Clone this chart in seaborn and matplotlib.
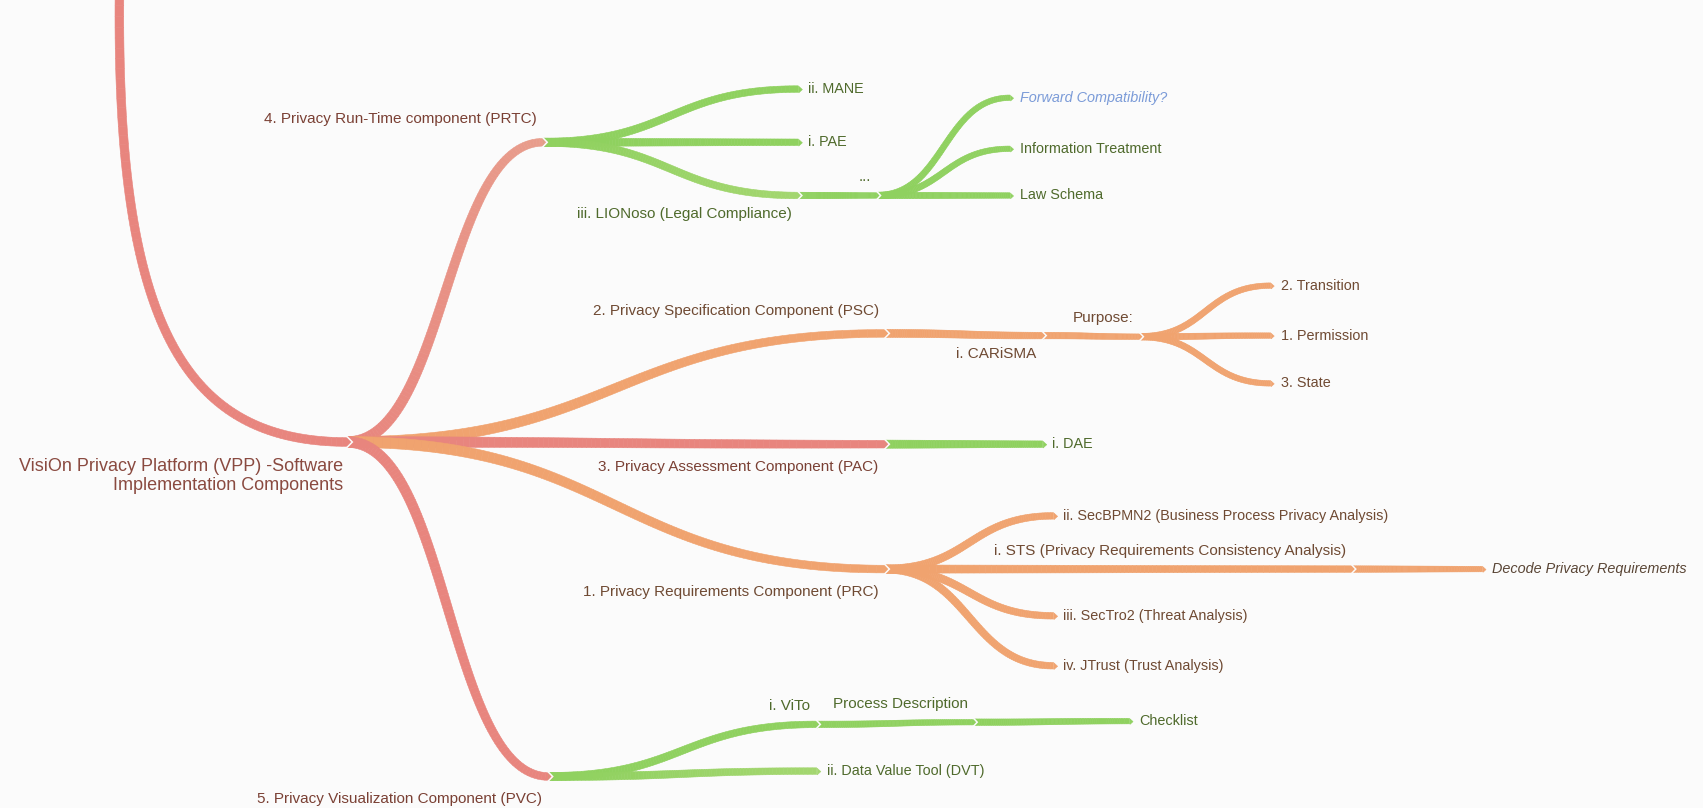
#!/usr/bin/env python3

import numpy as np
import seaborn as sns
import matplotlib.pyplot as plt
from matplotlib.collections import PolyCollection
from matplotlib.colors import to_rgb

sns.set_theme(style="white")
plt.rcParams['font.family'] = ['Liberation Sans', 'DejaVu Sans']

BG = "#fbfbfb"
RED, PINK, ORANGE, GREEN, LGREEN = "#e8857e", "#e89d8c", "#f0a36f", "#8fd15f", "#a3d66f"
TXT = {"red": "#7a4034", "orange": "#6f4a33", "green": "#4f6a2c"}

# mind map nodes (layout units = pixels of a 1568 x 744 canvas)
labels = ["VisiOn Privacy Platform (VPP) -Software\nImplementation Components",
          "4. Privacy Run-Time component (PRTC)",
          "2. Privacy Specification Component (PSC)",
          "3. Privacy Assessment Component (PAC)",
          "1. Privacy Requirements Component (PRC)",
          "5. Privacy Visualization Component (PVC)",
          "ii. MANE", "i. PAE", "iii. LIONoso (Legal Compliance)", "...",
          "Forward Compatibility?", "Information Treatment", "Law Schema",
          "i. CARiSMA", "Purpose:", "2. Transition", "1. Permission", "3. State",
          "i. DAE",
          "ii. SecBPMN2 (Business Process Privacy Analysis)",
          "i. STS (Privacy Requirements Consistency Analysis)",
          "Decode Privacy Requirements",
          "iii. SecTro2 (Threat Analysis)", "iv. JTrust (Trust Analysis)",
          "i. ViTo", "Process Description", "Checklist", "ii. Data Value Tool (DVT)"]
parents = [-1, 0, 0, 0, 0, 0, 1, 1, 1, 8, 9, 9, 9, 2, 13, 14, 14, 14, 3,
           4, 4, 20, 4, 4, 5, 24, 25, 5]
node_x = [320, 500, 815, 815, 815, 505, 735, 735, 735, 808, 930, 930, 930,
          960, 1050, 1170, 1170, 1170, 960, 970, 1245, 1365, 970, 970,
          752, 897, 1040, 752]
node_y = [407, 131, 307, 409, 524, 715, 82, 131, 180, 180, 90, 137, 180,
          309, 310, 263, 309, 353, 409, 475, 524, 524, 567, 613,
          667, 665, 664, 710]
side = ["root", "above", "above", "below", "below", "below",
        "leaf", "leaf", "below", "above", "leaf", "leaf", "leaf",
        "below", "above", "leaf", "leaf", "leaf", "leaf",
        "leaf", "above", "leaf", "leaf", "leaf",
        "above", "above", "leaf", "leaf"]
branch = ["red", "red", "orange", "red", "orange", "red",
          "green", "green", "green", "green", "green", "green", "green",
          "orange", "orange", "orange", "orange", "orange", "green",
          "orange", "orange", "orange", "orange", "orange",
          "green", "green", "green", "green"]
line_colors = {1: (RED, PINK), 8: (GREEN, LGREEN), 27: (GREEN, LGREEN)}
italic = {10: "#7b9bd8", 21: "#5a4636"}


def depth(i):
    d = 0
    while parents[i] >= 0:
        i = parents[i]
        d += 1
    return d


def tapered(ax, p0, p1, p2, p3, w0, w1, c0, c1, z, n=90):
    t = np.linspace(0, 1, n)[:, None]
    pts = ((1 - t) ** 3) * p0 + 3 * ((1 - t) ** 2) * t * p1 + 3 * (1 - t) * t ** 2 * p2 + t ** 3 * p3
    tan = np.gradient(pts, axis=0)
    tan /= np.linalg.norm(tan, axis=1)[:, None]
    nor = np.column_stack([-tan[:, 1], tan[:, 0]])
    w = np.linspace(w0, w1, n)[:, None] / 2
    left, right = pts + nor * w, pts - nor * w
    quads = [[left[k], left[k + 1], right[k + 1], right[k]] for k in range(n - 1)]
    a, b = np.array(to_rgb(c0)), np.array(to_rgb(c1))
    cols = [a + (b - a) * (k + 0.5) / (n - 1) for k in range(n - 1)]
    ax.add_collection(PolyCollection(quads, facecolors=cols, edgecolors=cols,
                                     linewidths=0.4, zorder=z))
    tip = [left[-1], pts[-1] + tan[-1] * w1 * 0.55, right[-1]]
    ax.add_collection(PolyCollection([tip], facecolors=[b], edgecolors=[b],
                                     linewidths=0.4, zorder=z))


fig = plt.figure(figsize=(17.03, 8.08), dpi=100, facecolor=BG)
ax = fig.add_axes([0, 0, 1, 1])
ax.set_facecolor(BG)
ax.set_xlim(0, 1568)
ax.set_ylim(744, 0)
ax.axis('off')

widths = {1: (10, 7), 2: (7.5, 6), 3: (6, 5), 4: (6, 5)}

# root stem coming from the top
tapered(ax, np.array([110, -5.]), np.array([107, 300.]), np.array([170, 407.]),
        np.array([320, 407.]), 8, 8, RED, RED, z=10)

for i in range(1, len(labels)):
    p = parents[i]
    x0, y0, x1, y1 = node_x[p], node_y[p], node_x[i], node_y[i]
    dx = (x1 - x0) * 0.5
    w0, w1 = widths[depth(i)]
    col = {"red": RED, "orange": ORANGE, "green": GREEN}[branch[i]]
    c0, c1 = line_colors.get(i, (col, col))
    tapered(ax, np.array([x0, y0], float), np.array([x0 + dx, y0], float),
            np.array([x1 - dx, y1], float), np.array([x1, y1], float),
            w0, w1, c0, c1, z=10 - depth(i))

# chevron gaps at the joints
for i in range(len(labels)):
    if i not in parents:
        continue
    w = widths[depth(i)][1] if i else 8
    x, y = node_x[i], node_y[i]
    ax.plot([x - 0.5, x + w * 0.55, x - 0.5], [y - w / 2 - 1, y, y + w / 2 + 1],
            color=BG, lw=1.1, solid_joinstyle='miter', zorder=20)

# labels
for i, text in enumerate(labels):
    x, y = node_x[i], node_y[i]
    color = TXT[branch[i]]
    style = "normal"
    if i in italic:
        color, style = italic[i], "italic"
    off = 21 if depth(i) == 1 else 17
    if side[i] == "root":
        ax.text(x - 4, y + 31, text, ha='right', va='center', fontsize=13,
                color="#8a4a40", linespacing=1.15)
    elif side[i] == "leaf":
        ax.text(x + 9, y, text, ha='left', va='center', fontsize=10.4,
                color=color, style=style)
    elif side[i] == "above":
        ax.text(x - 6, y - off, text, ha='right', va='center', fontsize=11,
                color=color, style=style)
    else:
        ax.text(x - 6, y + off, text, ha='right', va='center', fontsize=11,
                color=color, style=style)

fig.savefig('out.png', dpi=100, facecolor=BG)
